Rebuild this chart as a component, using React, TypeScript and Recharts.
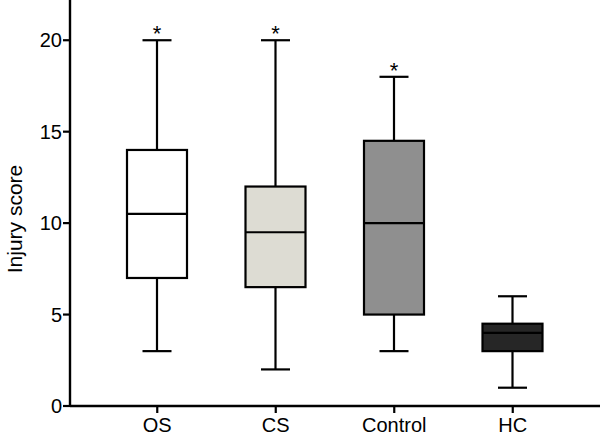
import { ComposedChart, Bar, XAxis, YAxis } from 'recharts'

const groups = ['OS', 'CS', 'Control', 'HC']
const mins = [3, 2, 3, 1]
const q1s = [7, 6.5, 5, 3]
const medians = [10.5, 9.5, 10, 4]
const q3s = [14, 12, 14.5, 4.5]
const maxs = [20, 20, 18, 6]
const starred = [true, true, true, false]
const fills = ['#ffffff', '#dddcd3', '#8f8f8f', '#262626']
const yTicks = [0, 5, 10, 15, 20]

const data = groups.map((g, i) => ({
  group: g,
  range: [mins[i], maxs[i]],
  min: mins[i],
  q1: q1s[i],
  median: medians[i],
  q3: q3s[i],
  max: maxs[i],
  star: starred[i],
  fill: fills[i],
}))

const font = '"Liberation Sans", Arial, Helvetica, sans-serif'

// draws one whole box plot from the range bar's geometry
function BoxShape(props: any) {
  const { x, y, width, height, payload } = props
  const top = Math.min(y, y + height)
  const h = Math.abs(height)
  const { min, max, q1, q3, median, star, fill } = payload
  const pix = (v: number) => top + (h * (max - v)) / (max - min)
  const cx = x + width / 2
  const cap = 29
  const sw = 2.2
  return (
    <g>
      <line x1={cx} x2={cx} y1={pix(max)} y2={pix(min)} stroke="#000" strokeWidth={sw} />
      <line x1={cx - cap / 2} x2={cx + cap / 2} y1={pix(max)} y2={pix(max)} stroke="#000" strokeWidth={sw} />
      <line x1={cx - cap / 2} x2={cx + cap / 2} y1={pix(min)} y2={pix(min)} stroke="#000" strokeWidth={sw} />
      <rect x={x} y={pix(q3)} width={width} height={pix(q1) - pix(q3)} fill={fill} stroke="#000" strokeWidth={sw} />
      <line x1={x} x2={x + width} y1={pix(median)} y2={pix(median)} stroke="#000" strokeWidth={sw} />
      {star && (
        <text x={cx} y={pix(max) + 1} textAnchor="middle" fontSize={22} fontFamily={font} fill="#000">
          *
        </text>
      )}
    </g>
  )
}

export default function App() {
  return (
    <div style={{ width: 600, height: 437, background: '#fff' }}>
      <style>{'body{margin:0}'}</style>
      <ComposedChart width={600} height={437} data={data} margin={{ top: 0, right: 0, left: 0, bottom: 0 }}>
        <XAxis
          dataKey="group"
          height={31}
          padding={{ left: 28, right: 28 }}
          tickSize={7}
          tickLine={{ stroke: '#000', strokeWidth: 2.2 }}
          axisLine={{ stroke: '#000', strokeWidth: 2.4 }}
          tick={{ fill: '#000', fontSize: 20, fontFamily: font }}
          tickMargin={5}
        />
        <YAxis
          width={70}
          domain={[0, 22.2]}
          ticks={yTicks}
          tickSize={7}
          tickLine={{ stroke: '#000', strokeWidth: 2.2 }}
          axisLine={{ stroke: '#000', strokeWidth: 2.4 }}
          tick={{ fill: '#000', fontSize: 20, fontFamily: font }}
          tickMargin={1}
          label={{
            value: 'Injury score',
            angle: -90,
            position: 'insideLeft',
            offset: 0,
            dx: 15,
            dy: 16,
            fontSize: 21,
            fontFamily: font,
            fill: '#000',
            textAnchor: 'middle',
          }}
        />
        <Bar dataKey="range" barSize={60} shape={BoxShape} isAnimationActive={false} />
      </ComposedChart>
    </div>
  )
}
